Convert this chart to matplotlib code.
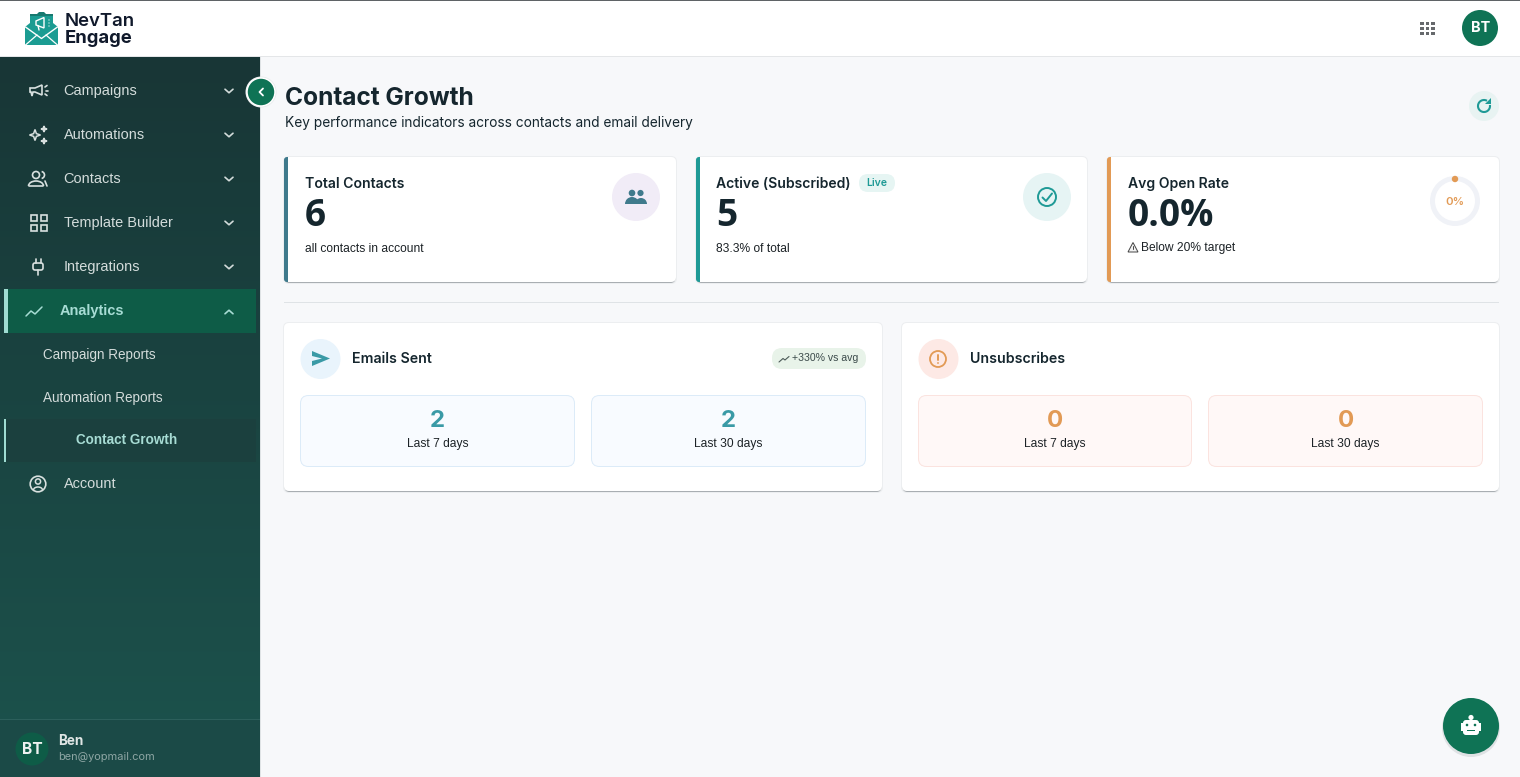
import numpy as np
import matplotlib.pyplot as plt
from matplotlib.colors import LinearSegmentedColormap
from matplotlib.patches import Circle, Ellipse, FancyBboxPatch, Polygon, Rectangle, Arc, Wedge

# Texts and values shown on the page
nav_labels = ['Campaigns', 'Automations', 'Contacts', 'Template Builder', 'Integrations']
sub_labels = ['Campaign Reports', 'Automation Reports']
kpi_titles = ['Total Contacts', 'Active (Subscribed)', 'Avg Open Rate']
kpi_values = ['6', '5', '0.0%']
kpi_notes = ['all contacts in account', '83.3% of total', 'Below 20% target']
period_labels = ['Last 7 days', 'Last 30 days']
emails_sent = [2, 2]
unsubscribes = [0, 0]

GREEN = '#0f7355'
DARK = '#15262e'
TEAL = '#3a9aa6'
ORANGE = '#e29a55'
HEAD = ['Inter', 'DejaVu Sans']
BIG = ['Open Sans', 'DejaVu Sans']
BODY = ['Liberation Sans', 'DejaVu Sans']
NAV = '#d3dcdb'
MINT = '#a7dcd4'

fig = plt.figure(figsize=(15.2, 7.77), dpi=100)
ax = fig.add_axes([0, 0, 1, 1])


def px(size):
    # css pixels to points
    return size * 0.72


def rect(x0, y0, x1, y1, color, z=1):
    ax.add_patch(Rectangle((x0, y0), x1 - x0, y1 - y0, fc=color, ec='none', zorder=z))


def rbox(x0, y0, x1, y1, r, fc, ec='none', lw=1, z=2):
    ax.add_patch(FancyBboxPatch((x0 + r, y0 + r), x1 - x0 - 2 * r, y1 - y0 - 2 * r,
                                boxstyle='round,pad=%f' % r, fc=fc, ec=ec, lw=lw, zorder=z))


def circle(x, y, r, fc, ec='none', lw=1, z=3):
    ax.add_patch(Circle((x, y), r, fc=fc, ec=ec, lw=lw, zorder=z))


def label(x, y, s, size, color=DARK, weight='normal', family=BODY, ha='left'):
    ax.text(x, y + 1, s, fontsize=px(size), color=color, fontweight=weight, family=family,
            ha=ha, va='center', zorder=6)


def line(xs, ys, color, lw=1.2, z=5):
    ax.plot(xs, ys, color=color, lw=lw, solid_capstyle='round', solid_joinstyle='round', zorder=z)


def chevron(x, y, color=NAV, up=False, size=4):
    d = -size / 2 - 0.3 if up else size / 2 + 0.3
    line([x - size, x, x + size], [y - d / 1.3, y + d / 1.3, y - d / 1.3], color, 1.2)


def card(x0, y0, x1, y1):
    rbox(x0 + 0.5, y0 + 1.5, x1 - 0.5, y1 + 1, 5, '#a9aeb2', z=2)
    rbox(x0 - 1, y0 - 1, x1 + 1, y1 + 2, 6, '#eceef0', z=1.5)
    rbox(x0, y0, x1, y1, 5, 'white', z=2.5)


# page background, header, sidebar
rect(0, 0, 1520, 777, '#f7f8fa', 0)
rect(0, 0, 1520, 56, 'white', 1)
rect(0, 56, 1520, 57, '#e4e6e8', 1)
rect(0, 0, 1520, 1, '#5f6366', 7)
side_cmap = LinearSegmentedColormap.from_list('side', ['#183636', '#1c534d'])
ax.imshow(np.linspace(0, 1, 256).reshape(-1, 1), extent=(0, 260, 777, 57), aspect='auto', zorder=1, cmap=side_cmap)
ax.set_xlim(0, 1520)
ax.set_ylim(777, 0)
ax.axis('off')
rect(260, 57, 261, 777, '#dfe3e5', 1)

# logo
ax.add_patch(Polygon([[30, 14], [37, 14], [39, 12], [44, 12], [46, 14], [53, 14], [53, 30], [30, 30]],
                     fc='#17796f', ec='none', zorder=3))
ax.add_patch(Polygon([[25, 27], [30, 23], [30, 16], [53, 16], [53, 23], [58, 27], [58, 45], [25, 45]],
                     fc='#1b9c92', ec='none', zorder=3.2))
line([25.5, 41.5, 57.5], [27, 38.5, 27], 'white', 1)
line([25.5, 37], [45, 35], 'white', 0.9)
line([57.5, 46], [45, 35], 'white', 0.9)
ax.add_patch(Polygon([[36, 21], [44, 17.5], [44, 28], [36, 25]], fc='none', ec='white', lw=1, zorder=5))
line([38, 39], [25.5, 30], 'white', 1)
for dy in [20, 23, 26]:
    circle(49, dy, 0.6, 'white', z=5)
label(65, 20.5, 'NevTan', 18.5, '#10192b', 'semibold', HEAD)
label(65, 37.5, 'Engage', 18.5, '#10192b', 'bold', HEAD)

# header right: apps grid and avatar
for gx in [1422, 1427.5, 1433]:
    for gy in [23.5, 28.5, 33.5]:
        rect(gx - 1.6, gy - 1.6, gx + 1.6, gy + 1.6, '#66696c', 3)
circle(1480, 28, 18, GREEN)
label(1480.5, 27.5, 'BT', 14.5, 'white', 'bold', HEAD, 'center')

# sidebar menu
for i, name in enumerate(nav_labels):
    y = 90 + i * 44
    label(63.5, y, name, 14.5, NAV)
    chevron(229, y + 1)

# menu icons
ic = '#d8e0df'
ax.add_patch(Polygon([[30, 88], [35, 88], [42, 85], [42, 95], [35, 92], [33, 92], [32, 96], [31, 92], [30, 92]],
                     fc='none', ec=ic, lw=1.2, zorder=5))
line([45, 47], [87, 85.5], ic)
line([45.5, 48], [90.5, 90.5], ic)
line([45, 47], [94, 95.5], ic)
for sx, sy, s in [(35, 135, 5.5), (44, 129, 3), (44, 141, 3)]:
    ax.add_patch(Polygon([[sx - s, sy], [sx - s * .25, sy - s * .25], [sx, sy - s], [sx + s * .25, sy - s * .25],
                          [sx + s, sy], [sx + s * .25, sy + s * .25], [sx, sy + s], [sx - s * .25, sy + s * .25]],
                         fc=ic if s < 4 else 'none', ec=ic, lw=1.1, zorder=5))
ax.add_patch(Circle((36, 175), 3.5, fc='none', ec=ic, lw=1.2, zorder=5))
ax.add_patch(Arc((36, 186), 15, 10, theta1=180, theta2=360, ec=ic, lw=1.2, zorder=5))
line([29, 43], [186, 186], ic)
ax.add_patch(Arc((41, 175), 7, 7, theta1=-80, theta2=80, ec=ic, lw=1.2, zorder=5))
line([45, 47], [181, 186], ic)
for bx, by in [(31, 215), (40.5, 215), (31, 224.5), (40.5, 224.5)]:
    ax.add_patch(Rectangle((bx, by), 6, 6, fc='none', ec=ic, lw=1.2, zorder=5))
# plug
rbox(33, 263, 43, 270, 2, 'none', ic, 1.2, z=5)
line([35.5, 35.5], [259, 263], ic)
line([40.5, 40.5], [259, 263], ic)
line([38, 38], [270, 275], ic)

# selected group
rect(4, 289, 256, 333, '#0e5c47', 2)
rect(4, 289, 8, 333, '#9fdcd2', 3)
line([26, 31, 35, 42], [316, 311, 314, 307], MINT, 1.1)
label(60, 310.5, 'Analytics', 14.5, MINT, 'bold')
chevron(229, 312, MINT, up=True)
label(43, 354, sub_labels[0], 13.5, NAV)
label(43, 397, sub_labels[1], 13.5, NAV)
rect(4, 419, 256, 462, '#1b403e', 2)
rect(4, 419, 6, 462, '#9fdcd2', 3)
label(76, 439.5, 'Contact Growth', 13.5, MINT, 'bold')
label(64, 483.5, 'Account', 14.5, NAV)
ax.add_patch(Circle((38, 484), 7.8, fc='none', ec=ic, lw=1.2, zorder=5))
ax.add_patch(Circle((38, 481.5), 2.6, fc='none', ec=ic, lw=1.1, zorder=5))
ax.add_patch(Arc((38, 490), 9, 6, theta1=180, theta2=360, ec=ic, lw=1.1, zorder=5))

# sidebar footer
rect(0, 720, 260, 777, '#1b4a47', 2)
rect(0, 719, 260, 720, '#2c5f5b', 3)
circle(32, 749, 16.5, '#0e5c47')
label(32, 748.5, 'BT', 15.5, '#eef2f1', 'bold', HEAD, 'center')
label(58, 740, 'Ben', 13.5, '#dfe5e4', 'bold', HEAD)
label(58, 756.5, 'ben@yopmail.com', 11, '#8ea6a4', 'normal', HEAD)

# collapse button
circle(261, 92, 15.5, '#e7eaeb', z=3.5)
circle(261, 92, 14, GREEN, 'white', 1.1, z=4)
line([263, 259.5, 263], [88.5, 92, 95.5], 'white', 1.3)

# page title
label(285, 97.5, 'Contact Growth', 24.5, DARK, 'bold', HEAD)
label(285, 121.5, 'Key performance indicators across contacts and email delivery', 13.7, DARK, 'normal', HEAD)
circle(1484, 106, 15, '#e8f3f2')
ax.add_patch(Arc((1484, 106), 12, 12, theta1=-10, theta2=300, ec='#1f9a96', lw=1.5, zorder=5))
ax.add_patch(Polygon([[1485, 104], [1491, 104], [1491, 98]], fc='#1f9a96', ec='none', zorder=5))

# KPI cards
kpi_x = [(284, 676), (696, 1087), (1107, 1499)]
kpi_text_x = [305, 716.5, 1128]
kpi_colors = ['#3f7a8c', '#1f9a96', ORANGE]
for (x0, x1), tx, title, val, note, col in zip(kpi_x, kpi_text_x, kpi_titles, kpi_values, kpi_notes, kpi_colors):
    card(x0, 157, x1, 282)
    rbox(x0, 157, x0 + 8, 282, 3, col, z=2.6)
    rect(x0 + 4, 157, x0 + 10, 282, 'white', 2.7)
    label(tx, 183, title, 14, DARK, 'semibold', HEAD)
    label(tx - 0.5, 215.5, val, 37, DARK, 'bold', BIG)
    note_y = 247.5
    if x0 > 1000:
        tx = 1141
        note_y = 246.5
    label(tx, note_y, note, 12, '#1c2226')
ax.add_patch(Polygon([[1133, 242.5], [1138, 252], [1128, 252]], fc='#f2f2f2', ec='#444444', lw=0.7, zorder=5))
line([1133, 1133], [245.5, 249], '#444444', 0.7)

# total contacts icon
circle(636, 197, 24, '#f1ecf7')
ax.add_patch(Wedge((632, 204), 7, 180, 360, fc='#3f7a8c', ec='none', zorder=5))
ax.add_patch(Wedge((641, 204), 6, 180, 360, fc='#3f7a8c', ec='none', zorder=5))
circle(632, 193, 3.3, '#3f7a8c', z=5)
circle(640.5, 193, 3.1, '#3f7a8c', z=5)

# active icon and live pill
circle(1047, 197, 24, '#e6f4f4')
ax.add_patch(Circle((1047, 197), 9, fc='none', ec='#1f9a96', lw=1.4, zorder=5))
line([1042.5, 1046, 1052], [197.5, 201, 193.5], '#1f9a96', 1.4)
rbox(859, 174, 895, 192, 9, '#e6f5f3', z=3)
label(877, 182, 'Live', 10.5, '#1f9a96', 'semibold', HEAD, 'center')

# open rate ring
ax.add_patch(Wedge((1455, 201), 25, 0, 360, width=5, fc='#f0f2f7', ec='none', zorder=3))
circle(1455, 179, 3.2, ORANGE, z=5)
label(1455, 201, '0%', 11.5, ORANGE, 'semibold', HEAD, 'center')

rect(284, 302, 1499, 303, '#dfe3e6', 1)

# lower cards
panels = [(284, 882, 'Emails Sent', emails_sent, TEAL, '#e9f4fc', '#f8fbff', '#dcebf8', [(300, 575), (591, 866)]),
          (902, 1499, 'Unsubscribes', unsubscribes, ORANGE, '#fde9e5', '#fff8f7', '#fbe3df', [(918, 1192), (1208, 1483)])]
for x0, x1, title, vals, col, icon_bg, box_bg, box_ec, boxes in panels:
    card(x0, 323, x1, 491)
    ax.add_patch(Ellipse((x0 + 36.5, 359), 40, 40, fc=icon_bg, ec='none', zorder=3))
    label(x0 + 68, 358, title, 14.2, DARK, 'semibold', HEAD)
    for (bx0, bx1), val, per in zip(boxes, vals, period_labels):
        rbox(bx0 + 0.5, 395.5, bx1 - 0.5, 466.5, 8, box_bg, box_ec, 0.7, z=3)
        label((bx0 + bx1) / 2, 420, str(val), 24, col, 'bold', HEAD, 'center')
        label((bx0 + bx1) / 2, 443, per, 12, '#1c2226', 'normal', BODY, 'center')

# send icon
ax.add_patch(Polygon([[312, 351], [330, 358.5], [312, 366], [312, 361], [322, 358.5], [312, 356]],
                     fc=TEAL, ec='none', zorder=5))
# alert icon
ax.add_patch(Circle((938, 359), 8, fc='none', ec=ORANGE, lw=1.3, zorder=5))
line([938, 938], [355, 359.5], ORANGE, 1.4)
circle(938, 363, 0.9, ORANGE, z=5)

# vs avg pill
rbox(772, 348, 866, 369, 10, '#e8f3e9', z=3)
line([779, 783, 785, 789], [362, 358.5, 360, 356.5], '#4c5a58', 0.8)
label(792, 357, '+330% vs avg', 10.5, '#3b4a4a', 'normal', BODY)

# chat button
circle(1471, 728, 29, '#dfe2e4', z=2)
circle(1471, 726, 28, GREEN, z=3)
rbox(1463, 720, 1479, 735, 3, 'white', z=4)
rect(1461, 723, 1481, 731, 'white', 4)
circle(1471, 717.5, 2.6, 'white', z=4)
circle(1467, 725, 1.3, GREEN, z=5)
circle(1475, 725, 1.3, GREEN, z=5)
rect(1467, 730, 1475, 731, GREEN, 5)

fig.savefig('out.png', dpi=100, facecolor='#f7f8fa')
